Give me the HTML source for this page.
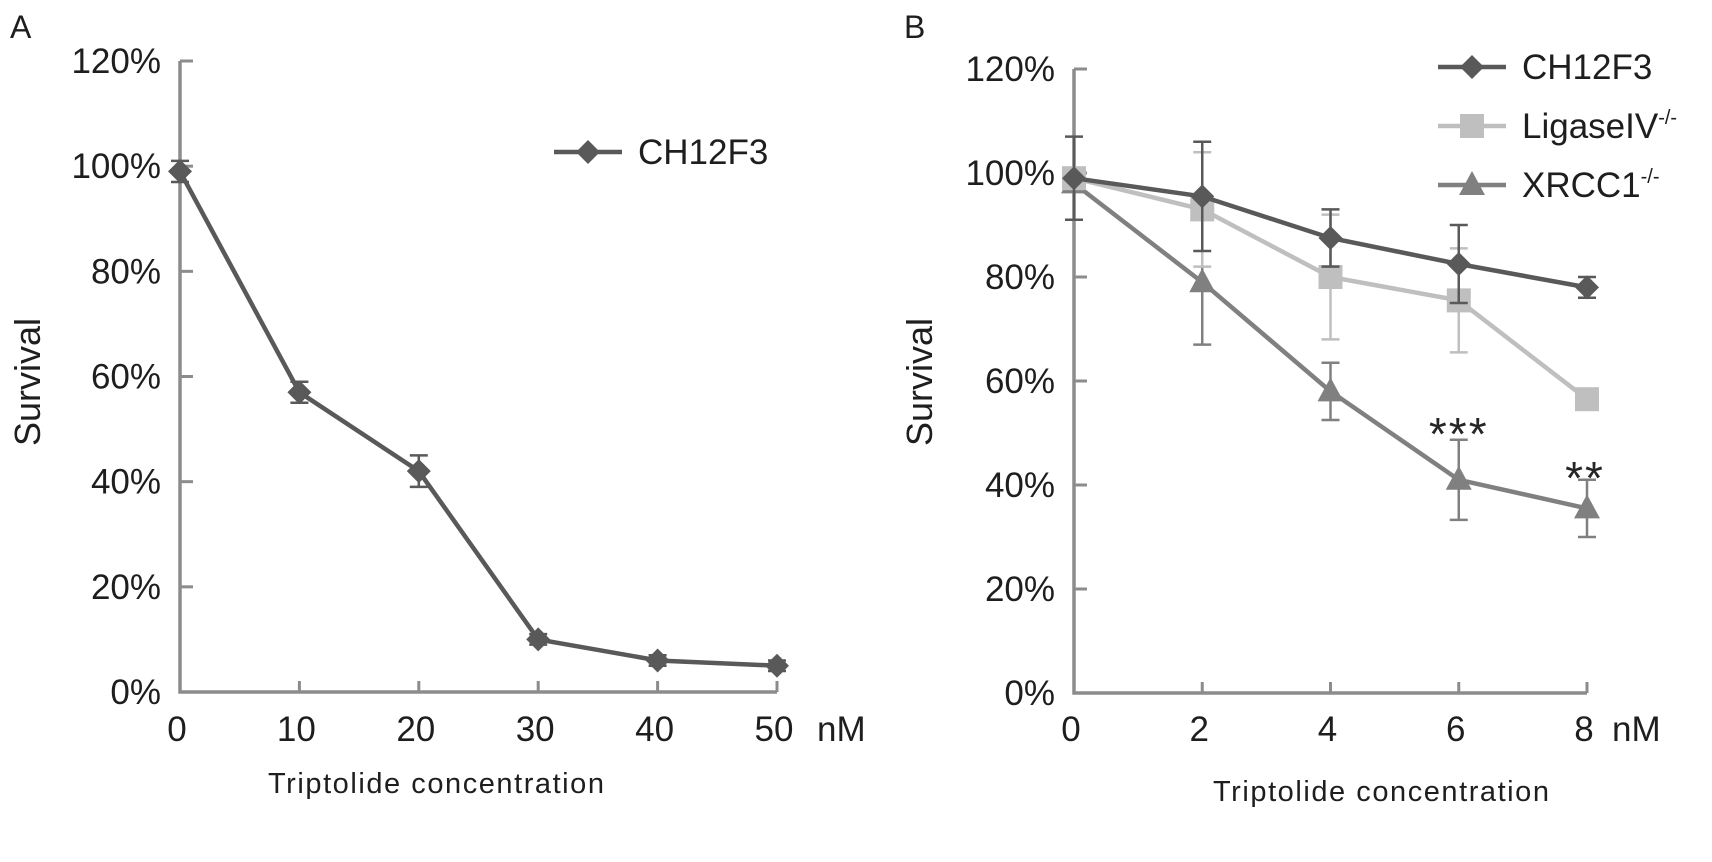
<!DOCTYPE html>
<html><head><meta charset="utf-8"><style>
body{margin:0;background:#fff}
svg{display:block;font-family:"Liberation Sans",sans-serif}
</style></head><body>
<svg id="c" width="1712" height="862" viewBox="0 0 1712 862" xmlns="http://www.w3.org/2000/svg"></svg>
<script>
// Panel A data
const aX = [0,10,20,30,40,50];
const aY = [99,57,42,10,6,5];
const aErr = [2,2,3,1,1,1];
const aXTicks = ["0","10","20","30","40","50"];
// Panel B data
const bX = [0,2,4,6,8];
const bXTicks = ["0","2","4","6","8"];
const ch12f3 = [99,95.5,87.5,82.5,78];
const ch12f3Err = [8,10.5,5.5,7.5,2];
const ligase = [99,93,80,75.5,56.5];
const ligaseErr = [1,11,12,10,0.5];
const xrcc1 = [98,79,58,41,35.5];
const xrcc1Err = [1,12,5.5,7.7,5.5];
const yTicks = [0,20,40,60,80,100,120];

const svg = document.getElementById('c');
const NS = 'http://www.w3.org/2000/svg';
function mk(tag, attrs, parent){const e=document.createElementNS(NS,tag);for(const k in attrs)e.setAttribute(k,attrs[k]);(parent||svg).appendChild(e);return e;}

function panel(cfg){
  const g = mk('g',{});
  
  
  const xs = v => cfg.x0 + (v - cfg.xmin)/(cfg.xmax-cfg.xmin)*(cfg.x1-cfg.x0);
  const ys = v => cfg.y0 - v/120*(cfg.y0-cfg.y1);
  const axis = mk('path',{d:`M${cfg.x0} ${cfg.y1} V${cfg.y0} H${cfg.x1}`,stroke:'#8c8c8c','stroke-width':3.5,fill:'none'},g);
  
  
  yTicks.forEach(t=>{
    mk('line',{x1:cfg.x0,x2:cfg.x0+13,y1:ys(t),y2:ys(t),stroke:'#8c8c8c','stroke-width':3},g);
    const tx = mk('text',{x:cfg.x0-19,y:ys(t)+12,'font-size':35,'text-anchor':'end',fill:'#1e1e1e'},g);
    tx.textContent = t+'%';
    
    
  });
  cfg.xvals.forEach((v,i)=>{
    mk('line',{x1:xs(v),x2:xs(v),y1:cfg.y0,y2:cfg.y0-11,stroke:'#8c8c8c','stroke-width':3},g);
    const tx = mk('text',{x:xs(v)-3,y:741,'font-size':35,'text-anchor':'middle',fill:'#1e1e1e'},g);
    tx.textContent = cfg.xlabels[i];
    
    
  });
  const nm = mk('text',{x:cfg.nmX,y:741,'font-size':35,fill:'#1e1e1e'},g);
  nm.textContent='nM';
  
  
  const yt = mk('text',{transform:`translate(${cfg.survX},382) rotate(-90)`,'font-size':36,'text-anchor':'middle',fill:'#1e1e1e'},g);
  yt.textContent='Survival';
  
  
  const xt = mk('text',{x:cfg.titleX,y:cfg.titleY,'font-size':29,'text-anchor':'middle',fill:'#1e1e1e',textLength:336},g);
  xt.textContent='Triptolide concentration';
  
  
  const lt = mk('text',{x:cfg.letterX,y:38,'font-size':32,fill:'#1e1e1e'},g);
  lt.textContent=cfg.letter;
  
  
  return {g,xs,ys};
}

function marker(g,shape,x,y,color){
  let e;
  if(shape==='diamond') e=mk('path',{d:`M${x} ${y-12} L${x+12} ${y} L${x} ${y+12} L${x-12} ${y}Z`,fill:color},g);
  else if(shape==='square') e=mk('rect',{x:x-12,y:y-12,width:24,height:24,fill:color},g);
  else e=mk('path',{d:`M${x} ${y-14} L${x+13} ${y+10} L${x-13} ${y+10}Z`,fill:color},g);
  return e;
}

function series(p,name,xv,yv,err,color,shape){
  const g = mk('g',{},p.g);
  
  
  xv.forEach((v,i)=>{
    const x=p.xs(v), yt=p.ys(yv[i]+err[i]), yb=p.ys(yv[i]-err[i]);
    const eb = mk('path',{d:`M${x} ${yt} V${yb} M${x-9} ${yt} H${x+9} M${x-9} ${yb} H${x+9}`,stroke:color,'stroke-width':2.5,fill:'none'},g);
    
    
  });
  const pts = xv.map((v,i)=>p.xs(v)+','+p.ys(yv[i])).join(' ');
  const ln = mk('polyline',{points:pts,stroke:color,'stroke-width':4.5,fill:'none'},g);
  
  
  xv.forEach((v,i)=>{
    const m = marker(g,shape,p.xs(v),p.ys(yv[i]),color);
    
    
  });
}

function legend(parent,label,sup,x,y,color,shape){
  const g = mk('g',{},parent);
  
  
  mk('line',{x1:x,x2:x+68,y1:y,y2:y,stroke:color,'stroke-width':4.5},g);
  marker(g,shape,x+34,y,color);
  const t = mk('text',{x:x+84,y:y+12,'font-size':35,fill:'#1e1e1e'},g);
  t.textContent=label;
  if(sup){const s=mk('tspan',{'font-size':20,dy:-14},t);s.textContent=sup;}
}

const A = panel({name:'panel-a',x0:180,x1:777,xmin:0,xmax:50,y0:692,y1:61,xvals:aX,xlabels:aXTicks,nmX:817,survX:40,titleX:436,titleY:793,letter:'A',letterX:10});
series(A,'series-ch12f3-a',aX,aY,aErr,'#595959','diamond');
legend(A.g,'CH12F3','',554,152,'#595959','diamond');

const B = panel({name:'panel-b',x0:1074,x1:1587,xmin:0,xmax:8,y0:693,y1:69,xvals:bX,xlabels:bXTicks,nmX:1612,survX:932,titleX:1381,titleY:801,letter:'B',letterX:904});
series(B,'series-xrcc1',bX,xrcc1,xrcc1Err,'#808080','triangle');
series(B,'series-ligaseiv',bX,ligase,ligaseErr,'#bfbfbf','square');
series(B,'series-ch12f3-b',bX,ch12f3,ch12f3Err,'#595959','diamond');
legend(B.g,'CH12F3','',1438,67,'#595959','diamond');
legend(B.g,'LigaseIV','-/-',1438,126,'#bfbfbf','square');
legend(B.g,'XRCC1','-/-',1438,185,'#808080','triangle');
const s1 = mk('text',{x:B.xs(6),y:450,'font-size':46,'text-anchor':'middle',fill:'#262626','letter-spacing':2},B.g);
s1.textContent='***';


const s2 = mk('text',{x:B.xs(8)-2,y:494,'font-size':46,'text-anchor':'middle',fill:'#262626','letter-spacing':2},B.g);
s2.textContent='**';


</script>
</body></html>
